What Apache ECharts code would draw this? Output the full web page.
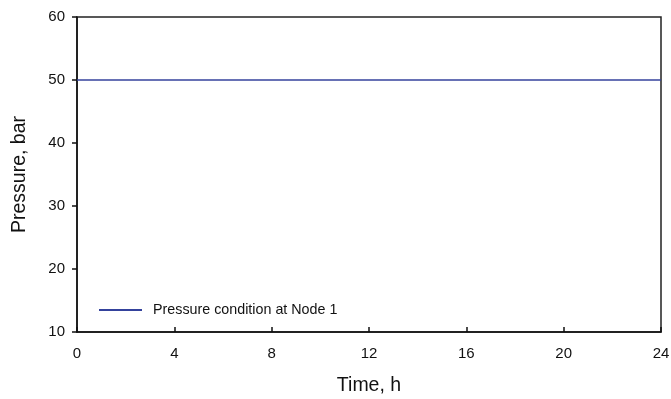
<!DOCTYPE html>
<html><head><meta charset="utf-8">
<script src="https://cdn.jsdelivr.net/npm/echarts@6/dist/echarts.min.js"></script>
<style>html,body{margin:0;padding:0;background:#fff}#c{width:671px;height:399px}</style>
</head><body><div id="c"></div>
<script>
const timeHours = [0, 24];
const pressureNode1 = [50, 50];
const xTicks = [0, 4, 8, 12, 16, 20, 24];
const yTicks = [10, 20, 30, 40, 50, 60];
const seriesName = 'Pressure condition at Node 1';

const chart = echarts.init(document.getElementById('c'), null, {renderer: 'canvas'});
const font = 'Liberation Sans, Arial, sans-serif';
chart.setOption({
  animation: false,
  grid: {left: 77, right: 10, top: 17, bottom: 67, show: true, borderColor: '#222', borderWidth: 1.5, containLabel: false, outerBoundsMode: 'none'},
  legend: {
    left: 99, top: 303, padding: 0, itemWidth: 43, itemHeight: 2, icon: 'rect',
    textStyle: {fontFamily: font, fontSize: 14.3, color: '#111', padding: [0, 0, 0, 6]},
    data: [seriesName]
  },
  xAxis: {
    type: 'value', min: 0, max: 24, interval: 4,
    name: 'Time, h', nameLocation: 'middle', nameGap: 44,
    nameTextStyle: {fontFamily: font, fontSize: 19.5, color: '#111'},
    axisLine: {show: true, lineStyle: {color: '#111', width: 1.5}},
    axisTick: {show: true, inside: true, length: 5, lineStyle: {color: '#111', width: 1.5}},
    axisLabel: {fontFamily: font, fontSize: 15, color: '#111', margin: 14},
    splitLine: {show: false}
  },
  yAxis: {
    type: 'value', min: 10, max: 60, interval: 10,
    name: 'Pressure, bar', nameLocation: 'middle', nameGap: 47,
    nameTextStyle: {fontFamily: font, fontSize: 19.5, color: '#111'},
    axisLine: {show: true, lineStyle: {color: '#111', width: 1.5}},
    axisTick: {show: true, inside: false, length: 5, lineStyle: {color: '#111', width: 1.5}},
    axisLabel: {fontFamily: font, fontSize: 15, color: '#111', margin: 12},
    splitLine: {show: false}
  },
  series: [{
    name: seriesName, type: 'line', showSymbol: false, symbol: 'none',
    data: timeHours.map((t, i) => [t, pressureNode1[i]]),
    lineStyle: {color: '#34429c', width: 1.5},
    itemStyle: {color: '#34429c'}
  }]
});
</script></body></html>
